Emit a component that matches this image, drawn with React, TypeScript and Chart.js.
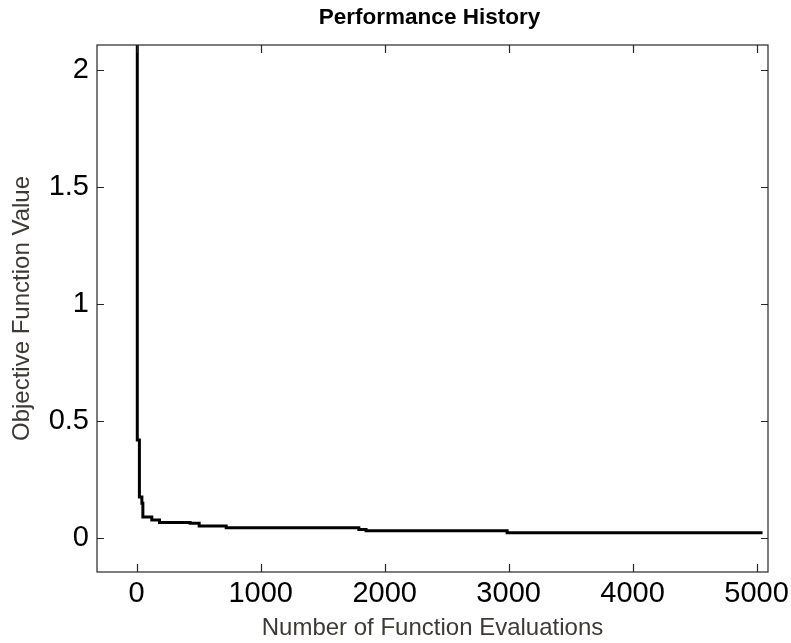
import React, { useEffect, useRef } from "react";
import { Chart, registerables } from "chart.js";

Chart.register(...registerables);

// Data (best objective value so far vs. evaluations)
const evaluations = [1, 5, 22, 42, 50, 122, 184, 431, 504, 722, 1792, 1850, 2988, 5048];
const objectiveValues = [4, 0.417, 0.173, 0.147, 0.088, 0.075, 0.065, 0.061, 0.05, 0.042, 0.035, 0.029, 0.0205, 0.0205];

const xTicks = [0, 1000, 2000, 3000, 4000, 5000];
const yTicks = [0, 0.5, 1, 1.5, 2];
const xRange = [-320, 5092];
const yRange = [-0.147, 2.105];

const chartTitle = "Performance History";
const xTitle = "Number of Function Evaluations";
const yTitle = "Objective Function Value";

const FONT = "'Liberation Sans', Arial, Helvetica, sans-serif";

const framePlugin = {
  id: "matlabFrame",
  afterDraw(chart: any) {
    const { ctx, chartArea } = chart;
    const { left, right, top, bottom } = chartArea;
    const xs = chart.scales.x;
    const ys = chart.scales.y;
    ctx.save();
    ctx.strokeStyle = "#262626";
    ctx.lineWidth = 1.2;
    ctx.strokeRect(left, top, right - left, bottom - top);
    ctx.beginPath();
    const xl = 8;
    const yl = 7;
    xTicks.forEach((v) => {
      const px = Math.round(xs.getPixelForValue(v)) + 0.5;
      ctx.moveTo(px, bottom);
      ctx.lineTo(px, bottom - xl);
      ctx.moveTo(px, top);
      ctx.lineTo(px, top + xl);
    });
    yTicks.forEach((v) => {
      const py = Math.round(ys.getPixelForValue(v)) + 0.5;
      ctx.moveTo(left, py);
      ctx.lineTo(left + yl, py);
      ctx.moveTo(right, py);
      ctx.lineTo(right - yl, py);
    });
    ctx.stroke();
    // title
    ctx.fillStyle = "#000";
    ctx.font = `bold 22.5px ${FONT}`;
    ctx.textAlign = "center";
    ctx.textBaseline = "alphabetic";
    ctx.fillText(chartTitle, (left + right) / 2 - 3, 24);
    ctx.restore();
  },
};

export default function App() {
  const canvasRef = useRef<HTMLCanvasElement | null>(null);

  useEffect(() => {
    if (!canvasRef.current) return;
    const points = evaluations.map((x, i) => ({ x, y: objectiveValues[i] }));
    const chart = new Chart(canvasRef.current, {
      type: "line",
      data: {
        datasets: [
          {
            data: points,
            borderColor: "#000",
            borderWidth: 3,
            pointRadius: 0,
            stepped: true,
            fill: false,
          },
        ],
      },
      options: {
        animation: false,
        responsive: true,
        maintainAspectRatio: false,
        layout: { padding: { left: 0, right: 23, top: 45, bottom: 0 } },
        plugins: {
          legend: { display: false },
          tooltip: { enabled: false },
          title: { display: false },
        },
        scales: {
          x: {
            type: "linear",
            min: xRange[0],
            max: xRange[1],
            grid: { display: false, drawTicks: false, tickLength: 0 },
            border: { display: false },
            afterBuildTicks: (s: any) => {
              s.ticks = xTicks.map((v) => ({ value: v }));
            },
            afterFit: (s: any) => {
              s.height = 71;
              s.paddingLeft = 0;
              s.paddingRight = 0;
            },
            ticks: {
              color: "#000",
              font: { family: FONT, size: 29 },
              padding: 5,
              maxRotation: 0,
              autoSkip: false,
              callback: (v: any) => String(v),
            },
            title: {
              display: true,
              text: xTitle,
              color: "#3d3a36",
              font: { family: FONT, size: 24 },
              padding: { top: 0, bottom: 0 },
            },
          },
          y: {
            type: "linear",
            min: yRange[0],
            max: yRange[1],
            grid: { display: false, drawTicks: false, tickLength: 0 },
            border: { display: false },
            afterBuildTicks: (s: any) => {
              s.ticks = yTicks.map((v) => ({ value: v }));
            },
            afterFit: (s: any) => {
              s.width = 97;
              s.paddingTop = 0;
              s.paddingBottom = 0;
            },
            ticks: {
              color: "#000",
              font: { family: FONT, size: 29 },
              padding: 8,
              autoSkip: false,
              callback: (v: any) => String(v),
            },
            title: {
              display: true,
              text: yTitle,
              color: "#3d3a36",
              font: { family: FONT, size: 24 },
              padding: { top: 8, bottom: 0 },
            },
          },
        },
      },
      plugins: [framePlugin],
    });
    return () => chart.destroy();
  }, []);

  return (
    <div
      style={{
        position: "fixed",
        left: 0,
        top: 0,
        width: 791,
        height: 643,
        background: "#fff",
      }}
    >
      <canvas ref={canvasRef} />
    </div>
  );
}
